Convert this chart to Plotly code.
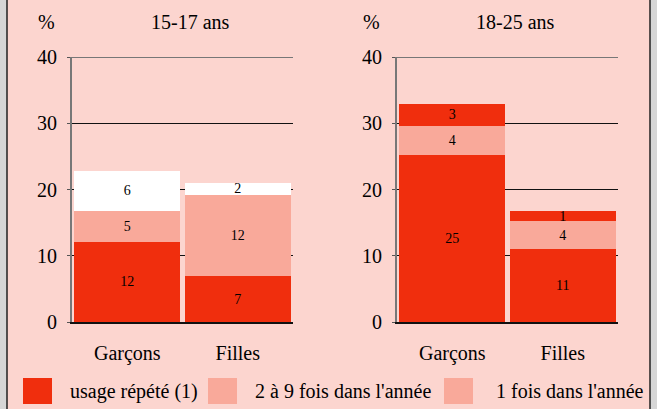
import plotly.graph_objects as go

W, H = 657, 409

categories = ["Garçons", "Filles"]
panel_titles = ["15-17 ans", "18-25 ans"]
series_names = ["usage répété (1)", "2 à 9 fois dans l'année", "1 fois dans l'année"]

# 15-17 ans
a_repete = [12.1, 6.9]
a_2a9 = [4.65, 12.3]
a_1fois = [6.05, 1.8]
a_lab_repete = ["12", "7"]
a_lab_2a9 = ["5", "12"]
a_lab_1fois = ["6", "2"]

# 18-25 ans
b_repete = [25.2, 11.0]
b_2a9 = [4.4, 4.25]
b_1fois = [3.3, 1.5]
b_lab_repete = ["25", "11"]
b_lab_2a9 = ["4", "4"]
b_lab_1fois = ["3", "1"]

y_ticks = [0, 10, 20, 30, 40]

RED = "#F02E0D"
SALMON = "#F9A99A"
WHITE = "#FFFFFF"
BG = "#FCD5CF"
GRAY = "#D6D6D6"
FONT = "Liberation Serif"

panel_colors = [
    [RED, SALMON, WHITE],
    [RED, SALMON, RED],
]
legend_colors = [RED, SALMON, SALMON]

def px(x):
    return x / W

def py(y):
    return 1 - y / H

fig = go.Figure()

panels = [
    ([a_repete, a_2a9, a_1fois], [a_lab_repete, a_lab_2a9, a_lab_1fois]),
    ([b_repete, b_2a9, b_1fois], [b_lab_repete, b_lab_2a9, b_lab_1fois]),
]

for p, (vals, labs) in enumerate(panels):
    xa = "x" if p == 0 else "x2"
    ya = "y" if p == 0 else "y2"
    for s in range(3):
        fig.add_trace(go.Bar(
            x=categories, y=vals[s], text=labs[s], name=series_names[s],
            marker=dict(color=panel_colors[p][s], line=dict(width=0)),
            textposition="inside", insidetextanchor="middle", textangle=0,
            textfont=dict(family=FONT, size=14, color="black"),
            hoverinfo="skip", showlegend=False, xaxis=xa, yaxis=ya,
        ))

x_domains = [[px(72), px(293)], [px(397), px(618)]]
y_domain = [py(322), py(57)]

common_x = dict(type="category", showgrid=False, showline=True, linecolor="#111",
                linewidth=1.5, ticks="", tickfont=dict(family=FONT, size=20, color="black"),
                ticklabelstandoff=12, fixedrange=True, range=[-0.5, 1.5], automargin=False)
common_y = dict(range=[0, 40], tickvals=y_ticks, showgrid=True, gridcolor="#111",
                gridwidth=1, showline=True, linecolor="#777", linewidth=2,
                ticks="outside", ticklen=3, tickcolor="#555",
                tickfont=dict(family=FONT, size=20, color="black"),
                ticklabelstandoff=6, zeroline=False, fixedrange=True, automargin=False)

fig.update_layout(
    width=W, height=H, autosize=False,
    margin=dict(l=0, r=0, t=0, b=0, pad=0),
    paper_bgcolor=GRAY, plot_bgcolor=BG,
    barmode="stack", bargap=0.04,
    showlegend=False,
    font=dict(family=FONT, size=20, color="black"),
    xaxis=dict(domain=x_domains[0], anchor="y", **common_x),
    xaxis2=dict(domain=x_domains[1], anchor="y2", **common_x),
    yaxis=dict(domain=y_domain, anchor="x", **common_y),
    yaxis2=dict(domain=y_domain, anchor="x2", **common_y),
    uniformtext=dict(minsize=14, mode="show"),
)

shapes = [
    dict(type="rect", xref="paper", yref="paper", x0=px(7), x1=px(650),
         y0=py(412), y1=py(-3), fillcolor=BG, line=dict(color="#222", width=1.5),
         layer="below"),
]
# top frame line at 40 on each panel
for xd, yd in [("x domain", "y"), ("x2 domain", "y2")]:
    shapes.append(dict(type="line", xref=xd, yref=yd, x0=0, x1=1, y0=40, y1=40,
                       line=dict(color="#777", width=2)))

annotations = []
for title, cx, pcx in zip(panel_titles, [190, 515], [46, 371]):
    annotations.append(dict(text=title, x=px(cx), y=py(22), xref="paper", yref="paper",
                            xanchor="center", yanchor="middle", showarrow=False,
                            font=dict(family=FONT, size=20, color="black")))
    annotations.append(dict(text="%", x=px(pcx), y=py(22), xref="paper", yref="paper",
                            xanchor="center", yanchor="middle", showarrow=False,
                            font=dict(family=FONT, size=20, color="black")))

legend_swatch_x = [23, 208, 444]
legend_text_x = [68, 253, 494]
for name, col, sx, tx in zip(series_names, legend_colors, legend_swatch_x, legend_text_x):
    shapes.append(dict(type="rect", xref="paper", yref="paper", x0=px(sx), x1=px(sx + 29),
                       y0=py(404), y1=py(378), fillcolor=col, line=dict(width=0)))
    annotations.append(dict(text=name, x=px(tx), y=py(391), xref="paper", yref="paper",
                            xanchor="left", yanchor="middle", showarrow=False,
                            font=dict(family=FONT, size=20, color="black")))

fig.update_layout(shapes=shapes, annotations=annotations)

fig.write_html(
    "out.html",
    config={"displayModeBar": False, "responsive": False, "staticPlot": True},
    post_script="document.body.style.margin='0';document.body.style.padding='0';"
                "document.body.style.overflow='hidden';"
                "document.body.style.background='" + GRAY + "';",
)
